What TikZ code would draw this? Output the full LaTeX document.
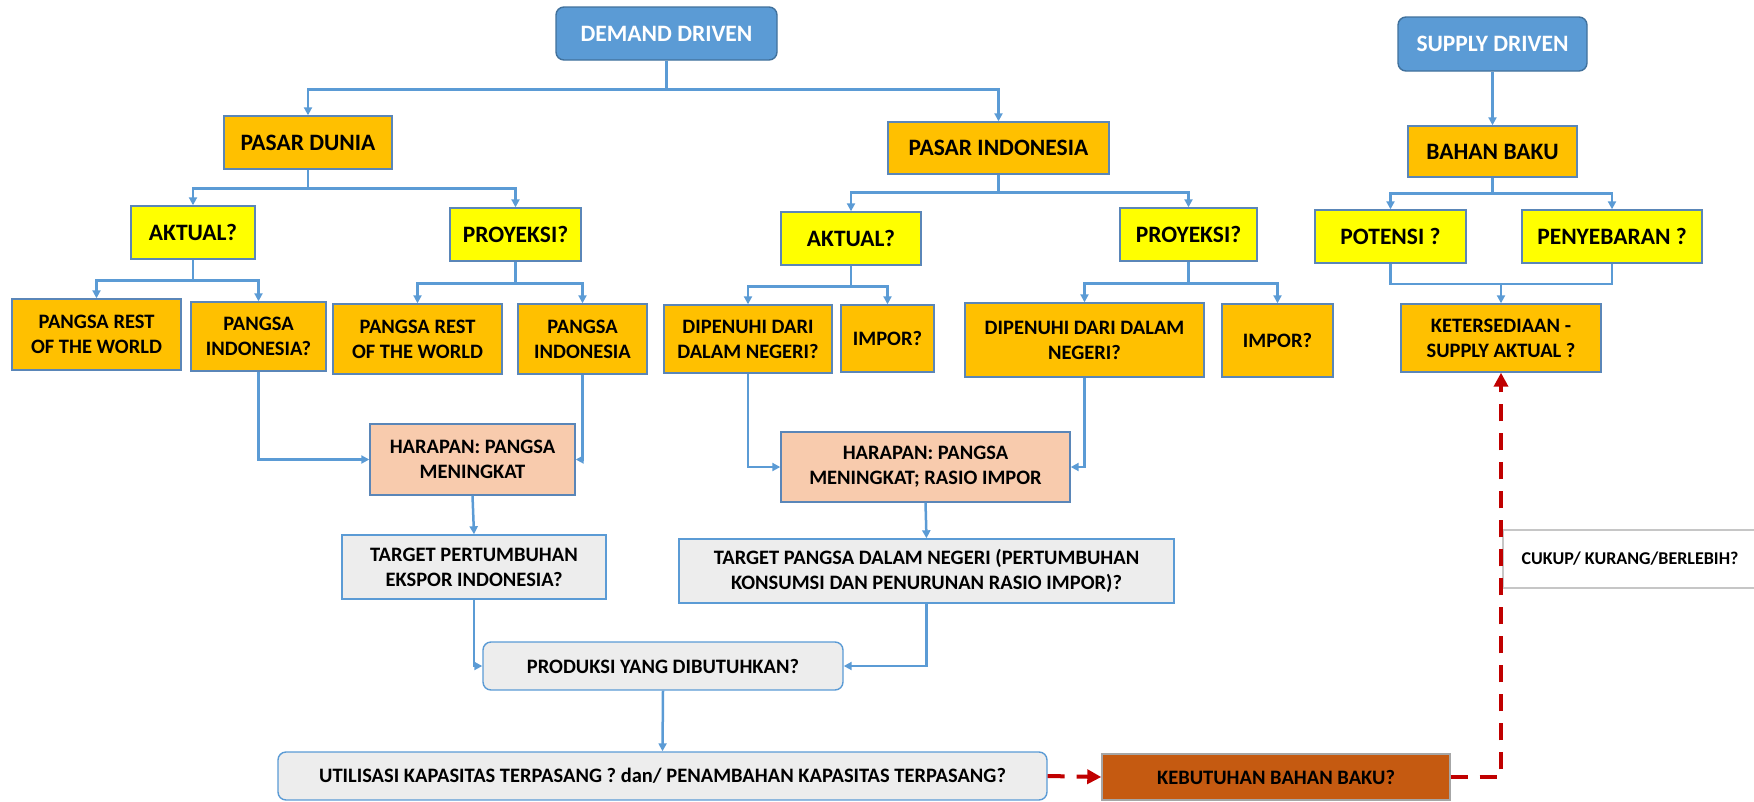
\documentclass[tikz,border=0pt]{standalone}
\usepackage{fontspec}
\setmainfont{Carlito}
\usetikzlibrary{arrows.meta}

\definecolor{drvfill}{HTML}{5B9BD5}
\definecolor{drvline}{HTML}{41719C}
\definecolor{boxline}{HTML}{5A86B8}
\definecolor{orangebox}{HTML}{FFC000}
\definecolor{yellowbox}{HTML}{FFFF00}
\definecolor{peachbox}{HTML}{F8CBAD}
\definecolor{greybox}{HTML}{EDEDED}
\definecolor{brownbox}{HTML}{C55A11}
\definecolor{connblue}{HTML}{5B9BD5}
\definecolor{dashred}{HTML}{C00000}

\begin{document}
\begin{tikzpicture}[x=1pt, y=-1pt]

\tikzstyle{box} = [rectangle, draw=boxline, line width=1.4pt, inner sep=0pt, align=center,
  font=\fontsize{20.5}{25}\selectfont\bfseries]
\tikzstyle{drv} = [box, rounded corners=8pt, fill=drvfill, draw=drvline, text=white,
  font=\fontsize{23.5}{28}\selectfont\bfseries]
\tikzstyle{market} = [box, fill=orangebox, font=\fontsize{23.5}{28}\selectfont\bfseries]
\tikzstyle{ask} = [box, fill=yellowbox, font=\fontsize{23.5}{28}\selectfont\bfseries]
\tikzstyle{share} = [box, fill=orangebox]
\tikzstyle{hope} = [box, fill=peachbox]
\tikzstyle{target} = [box, fill=greybox, draw=connblue]
\tikzstyle{need} = [box, fill=brownbox, draw=gray!70]
\tikzstyle{note} = [box, fill=white, draw=gray!45, font=\fontsize{18}{22}\selectfont\bfseries]
\tikzstyle{conn} = [draw=connblue, line width=2.5pt, -{Triangle[length=8pt,width=8pt]}]
\tikzstyle{link} = [draw=connblue, line width=2.5pt]
\tikzstyle{reddash} = [draw=dashred, line width=4pt, dash pattern=on 17pt off 12pt,
  -{Triangle[length=14pt,width=14pt]}]

\useasboundingbox (0,0) rectangle (1754,801);

\node[drv, minimum width=221pt, minimum height=53pt] (dd) at (666.5,33.5) {DEMAND DRIVEN};
\node[drv, minimum width=189pt, minimum height=54pt] (sd) at (1492.5,44) {SUPPLY DRIVEN};

\node[market, minimum width=168pt, minimum height=53pt] (pd) at (308,142.5) {PASAR DUNIA};
\node[market, minimum width=221pt, minimum height=52pt] (pin) at (998.5,148) {PASAR INDONESIA};
\node[market, minimum width=169pt, minimum height=51pt] (bb) at (1492.5,151.5) {BAHAN BAKU};

\node[ask, minimum width=124pt, minimum height=53pt] (ak1) at (193,232.5) {AKTUAL?};
\node[ask, minimum width=131pt, minimum height=53pt] (pr1) at (515.5,234.5) {PROYEKSI?};
\node[ask, minimum width=140pt, minimum height=53pt] (ak2) at (851,238.5) {AKTUAL?};
\node[ask, minimum width=137pt, minimum height=53pt] (pr2) at (1188.5,234.5) {PROYEKSI?};
\node[ask, minimum width=151pt, minimum height=53pt] (pot) at (1390.5,236.5) {POTENSI ?};
\node[ask, minimum width=180pt, minimum height=53pt] (pny) at (1612,236.5) {PENYEBARAN ?};

\node[share, minimum width=169pt, minimum height=71pt] (prw1) at (96.5,334.5) {PANGSA REST\\OF THE WORLD};
\node[share, minimum width=135pt, minimum height=69pt] (pia) at (258.5,336.5) {PANGSA\\INDONESIA?};
\node[share, minimum width=169pt, minimum height=70pt] (prw2) at (417.5,339) {PANGSA REST\\OF THE WORLD};
\node[share, minimum width=129pt, minimum height=70pt] (pib) at (582.5,339) {PANGSA\\INDONESIA};
\node[share, minimum width=168pt, minimum height=68pt] (dip1) at (748,339) {DIPENUHI DARI\\DALAM NEGERI?};
\node[share, minimum width=93pt, minimum height=67pt] (imp1) at (887.5,338.5) {IMPOR?};
\node[share, minimum width=239pt, minimum height=74pt] (dip2) at (1084.5,340) {DIPENUHI DARI DALAM\\NEGERI?};
\node[share, minimum width=111pt, minimum height=73pt] (imp2) at (1277.5,340.5) {IMPOR?};
\node[share, minimum width=200pt, minimum height=68pt] (ket) at (1501,338) {KETERSEDIAAN -\\SUPPLY AKTUAL ?};

\node[hope, minimum width=205pt, minimum height=71pt] (har1) at (472.5,459.5) {HARAPAN: PANGSA\\MENINGKAT};
\node[hope, minimum width=289pt, minimum height=70pt] (har2) at (925.5,467) {HARAPAN: PANGSA\\MENINGKAT; RASIO IMPOR};

\node[target, minimum width=264pt, minimum height=64pt] (tg1) at (474,567) {TARGET PERTUMBUHAN\\EKSPOR INDONESIA?};
\node[target, minimum width=495pt, minimum height=64pt] (tg2) at (926.5,571) {TARGET PANGSA DALAM NEGERI (PERTUMBUHAN\\KONSUMSI DAN PENURUNAN RASIO IMPOR)?};
\node[target, rounded corners=8pt, minimum width=360pt, minimum height=48pt] (prod) at (663,666) {PRODUKSI YANG DIBUTUHKAN?};
\node[target, rounded corners=8pt, minimum width=769pt, minimum height=48pt] (util) at (662.5,776) {UTILISASI KAPASITAS TERPASANG ? dan/ PENAMBAHAN KAPASITAS TERPASANG?};
\node[need, minimum width=348pt, minimum height=46pt] (keb) at (1276,777) {KEBUTUHAN BAHAN BAKU?};
\node[note, minimum width=254pt, minimum height=58pt] (cuk) at (1630,559) {CUKUP/ KURANG/BERLEBIH?};

\draw[conn] (dd.south) -- ++(0,29) -| (pd.north);
\draw[conn] (dd.south) -- ++(0,29) -| (pin.north);
\draw[conn] (pd.south) -- ++(0,19) -| (ak1.north);
\draw[conn] (pd.south) -- ++(0,19) -| (pr1.north);
\draw[conn] (pin.south) -- ++(0,18) -| (ak2.north);
\draw[conn] (pin.south) -- ++(0,18) -| (pr2.north);
\draw[conn] (ak1.south) -- ++(0,21) -| (prw1.north);
\draw[conn] (ak1.south) -- ++(0,21) -| (pia.north);
\draw[conn] (pr1.south) -- ++(0,22) -| (prw2.north);
\draw[conn] (pr1.south) -- ++(0,22) -| (pib.north);
\draw[conn] (ak2.south) -- ++(0,21) -| (dip1.north);
\draw[conn] (ak2.south) -- ++(0,21) -| (imp1.north);
\draw[conn] (pr2.south) -- ++(0,22) -| (dip2.north);
\draw[conn] (pr2.south) -- ++(0,22) -| (imp2.north);
\draw[conn] (sd.south) -- (bb.north);
\draw[conn] (bb.south) -- ++(0,16) -| (pot.north);
\draw[conn] (bb.south) -- ++(0,16) -| (pny.north);

\coordinate (mrg) at (1501,284);
\draw[link] (pot.south) |- (mrg) -| (pny.south);
\draw[conn] (mrg) -- (ket.north);

\draw[conn] (pia.south) |- (har1.west);
\draw[conn] (pib.south) |- (har1.east);
\draw[conn] (dip1.south) |- (har2.west);
\draw[conn] (dip2.south) |- (har2.east);
\draw[conn] (har1.south) -- (tg1.north);
\draw[conn] (har2.south) -- (tg2.north);
\draw[conn] (tg1.south) |- (prod.west);
\draw[conn] (tg2.south) |- (prod.east);
\draw[conn] (prod.south) -- (util.north);

\draw[reddash] (util.east) -- (keb.west);
\draw[reddash] (keb.east) -| (ket.south);

\end{tikzpicture}
\end{document}
